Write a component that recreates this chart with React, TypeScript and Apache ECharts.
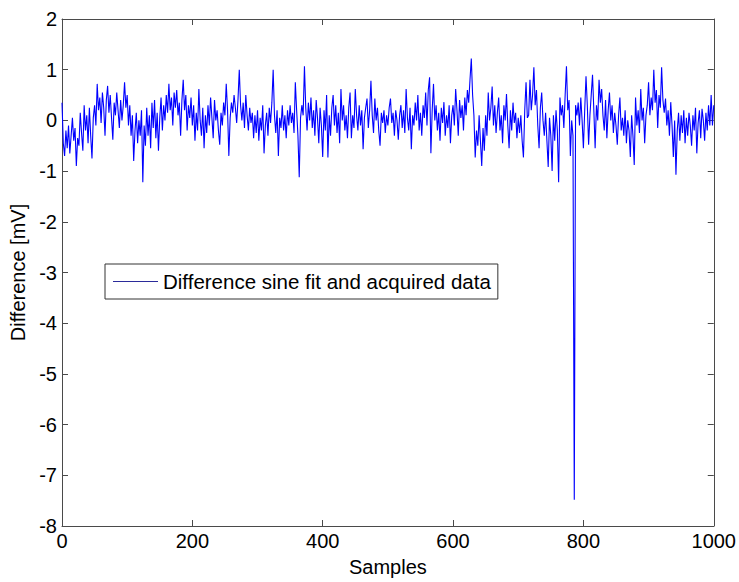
import React, { useEffect, useRef } from "react";
import * as echarts from "echarts";

const SAMPLE_STEP = 2;

// Difference values [mV], samples 0..248
const diffA = [
  0.35, -0.45, -0.7, -0.2, -0.55, -0.1, -0.65, -0.3, 0.05, -0.4, -0.15, -0.9, -0.35, -0.5, 0.15, -0.25, -0.6, 0.3, -0.2, 0.1, -0.45, 0.25, -0.3, -0.75, 0.05,
  0.3, -0.1, 0.72, 0.2, 0.45, -0.05, 0.55, 0.25, -0.3, 0.4, 0.68, 0.15, 0.5, 0.05, -0.38, 0.35, 0.1, 0.55, 0.2, -0.15, 0.4, 0.0, 0.3, 0.75, 0.25,
  0.5, -0.1, 0.3, -0.3, 0.1, -0.8, -0.2, 0.15, -0.45, 0.0, -0.3, 0.2, -1.22, -0.1, -0.5, 0.25, -0.3, 0.1, -0.55, 0.35, -0.15, 0.4, -0.35, 0.15, -0.6,
  0.05, 0.45, -0.2, 0.3, 0.0, 0.5, 0.15, 0.72, 0.2, 0.45, -0.1, 0.55, 0.25, 0.6, 0.1, 0.35, -0.3, 0.4, 0.8, 0.2, 0.5, -0.2, 0.3, 0.05, 0.45,
  -0.1, 0.3, -0.4, 0.15, -0.2, 0.62, 0.0, -0.3, 0.25, -0.55, 0.1, -0.25, 0.3, -0.1, 0.45, 0.05, -0.35, 0.4, 0.0, 0.2, -0.2, -0.48, 0.15, -0.1, 0.35,
];

// samples 250..498
const diffB = [
  0.1, 0.72, 0.2, -0.7, 0.05, 0.35, 0.15, 0.5, 0.25, -0.05, 0.4, 1.0, 0.3, 0.0, 0.35, -0.15, 0.5, 0.1, -0.2, 0.25, -0.05, 0.15, -0.35, 0.1, -0.25,
  0.2, -0.4, 0.05, -0.2, 0.3, -0.65, -0.1, 0.15, -0.3, 0.25, -0.05, 0.35, 1.0, 0.1, -0.25, 0.2, -0.7, 0.05, -0.15, 0.3, -0.2, 0.1, -0.35, 0.2, -0.1,
  0.3, -0.05, 0.15, -0.25, 0.75, 0.2, -0.3, -1.12, 0.05, 0.3, 0.1, 1.07, 0.25, -0.2, 0.35, 0.0, 0.45, -0.15, 0.2, -0.3, 0.4, 0.05, -0.45, 0.25, -0.1,
  -0.72, 0.2, -0.2, 0.5, -0.73, 0.1, -0.3, 0.25, 0.5, -0.1, 0.3, -0.25, 0.15, -0.45, 0.62, 0.0, 0.3, -0.2, 0.1, -0.35, 0.25, 0.55, -0.35, 0.1, -0.15,
  0.62, 0.1, -0.2, 0.3, -0.1, 0.2, -0.57, 0.05, 0.25, 0.43, -0.15, 0.2, 0.78, 0.1, -0.25, 0.43, 0.0, 0.25, -0.2, -0.5, 0.15, -0.05, 0.2, -0.25, 0.1,
];

// samples 500..748
const diffC = [
  -0.1, 0.25, 0.43, -0.05, 0.15, -0.3, 0.2, 0.0, -0.38, 0.1, 0.3, -0.15, 0.2, -0.25, 0.62, 0.05, -0.2, 0.25, -0.57, 0.1, -0.1, 0.35, 0.0, 0.5, -0.2,
  0.15, -0.3, 0.3, 0.05, 0.55, -0.1, 0.6, 0.85, -0.65, 0.2, 0.72, 0.0, 0.3, -0.2, 0.15, -0.4, 0.25, -0.05, 0.36, -0.3, 0.1, -0.15, 0.3, -0.45, 0.1,
  0.3, -0.1, 0.62, 0.2, -0.3, 0.4, 0.05, 0.3, -0.2, 0.45, 0.1, 0.6, 0.35, 0.8, 1.22, 0.5, 0.1, -0.73, -0.2, -0.5, 0.1, -0.4, -0.9, -0.15, -0.6,
  0.1, -0.3, 0.55, 0.0, 0.25, 0.67, -0.1, 0.3, -0.25, 0.15, 0.45, -0.2, 0.1, -0.45, 0.3, 0.0, 0.52, -0.1, -0.55, 0.2, -0.2, 0.35, -0.05, 0.15, -0.35,
  0.05, -0.25, 0.1, -0.4, -0.73, 0.2, 0.75, 0.05, 0.1, 0.8, 0.2, 0.5, 1.05, 0.3, 0.6, -0.1, -0.55, 0.25, 0.55, 0.0, -0.3, 0.15, -0.4, -0.92, 0.05,
];

// samples 750..1000 (includes the outlier near sample 786)
const diffD = [
  -0.3, -1.0, 0.1, -0.4, 0.2, -0.2, -1.22, 0.45, 0.1, 0.3, -0.15, 0.5, 1.07, 0.2, 0.4, -0.7, 0.0, -0.3, -7.48, 0.3, 0.1, 0.35, -0.1, 0.45, 0.0,
  -0.55, 0.2, 0.87, 0.3, -0.48, 0.1, 0.5, 0.9, 0.2, -0.55, 0.3, 0.0, 0.8, 0.35, 0.62, 0.1, -0.2, 0.4, -0.35, 0.2, 0.55, 0.0, 0.3, -0.25, 0.15,
  -0.1, -0.48, 0.1, 0.45, -0.2, 0.05, -0.3, 0.2, -0.45, 0.0, -0.2, -0.72, 0.1, -0.3, -0.88, 0.45, -0.1, 0.2, -0.25, 0.62, 0.0, 0.25, -0.45, 0.1, 0.3,
  0.75, 0.1, 0.45, 0.2, 1.0, 0.35, 0.6, -0.15, 0.5, 0.25, 1.05, 0.4, 0.15, 0.43, -0.1, 0.2, -0.3, 0.36, -0.1, -0.72, 0.0, -1.07, -0.2, 0.15, -0.4,
  0.1, -0.25, 0.2, -0.45, 0.05, -0.3, 0.15, -0.1, -0.5, 0.1, -0.2, 0.25, -0.65, -0.05, 0.2, -0.35, 0.23, 0.0, -0.4, 0.15, -0.2, 0.3, -0.1, 0.5, -0.1,
  0.3,
];

const difference = [...diffA, ...diffB, ...diffC, ...diffD];
const samples = difference.map((_, i) => i * SAMPLE_STEP);

const seriesName = "Difference sine fit and acquired data";
const xAxisName = "Samples";
const yAxisName = "Difference [mV]";

export default function App() {
  const ref = useRef<HTMLDivElement>(null);

  useEffect(() => {
    if (!ref.current) return;
    const chart = echarts.init(ref.current, null, { renderer: "svg" });
    const font = "'Liberation Sans', Arial, Helvetica, sans-serif";
    const boxColor = "#4a4a4a";
    const axisLine = { show: true, onZero: false, lineStyle: { color: boxColor, width: 1 } };
    const axisTick = { show: true, inside: true, length: 6, lineStyle: { color: boxColor, width: 1 } };
    const labelStyle = { fontSize: 20, color: "#000", fontFamily: font };

    chart.setOption({
      animation: false,
      backgroundColor: "#ffffff",
      textStyle: { fontFamily: font },
      grid: { left: 62, top: 19, width: 653, height: 516, containLabel: false },
      legend: {
        data: [{ name: seriesName, icon: "rect" }],
        left: 105,
        top: 264,
        orient: "horizontal",
        padding: [7, 7, 7, 8],
        itemWidth: 45,
        itemHeight: 1,
        itemStyle: { color: "#2b2b9a", borderWidth: 0 },
        backgroundColor: "#ffffff",
        borderColor: "#333333",
        borderWidth: 1,
        borderRadius: 0,
        textStyle: { fontSize: 20.5, color: "#000", fontFamily: font, lineHeight: 20 },
      },
      xAxis: [
        {
          type: "value",
          position: "bottom",
          min: 0,
          max: 1000,
          interval: 200,
          name: xAxisName,
          nameLocation: "middle",
          nameGap: 31,
          nameTextStyle: labelStyle,
          axisLine,
          axisTick,
          axisLabel: { ...labelStyle, margin: 5, formatter: (v: number) => String(v) },
          splitLine: { show: false },
        },
        {
          type: "value",
          position: "top",
          min: 0,
          max: 1000,
          interval: 200,
          axisLine,
          axisTick,
          axisLabel: { show: false },
          splitLine: { show: false },
        },
      ],
      yAxis: [
        {
          type: "value",
          position: "left",
          min: -8,
          max: 2,
          interval: 1,
          name: yAxisName,
          nameLocation: "middle",
          nameGap: 31,
          nameTextStyle: labelStyle,
          axisLine,
          axisTick,
          axisLabel: { ...labelStyle, margin: 5, formatter: (v: number) => String(v) },
          splitLine: { show: false },
        },
        {
          type: "value",
          position: "right",
          min: -8,
          max: 2,
          interval: 1,
          axisLine,
          axisTick,
          axisLabel: { show: false },
          splitLine: { show: false },
        },
      ],
      series: [
        {
          type: "line",
          name: seriesName,
          xAxisIndex: 0,
          yAxisIndex: 0,
          data: samples.map((s, i) => [s, difference[i]]),
          symbol: "none",
          showSymbol: false,
          lineStyle: { color: "#0000ff", width: 1.1 },
          itemStyle: { color: "#0000ff" },
        },
      ],
    });

    return () => chart.dispose();
  }, []);

  return (
    <div
      ref={ref}
      style={{ position: "fixed", left: 0, top: 0, width: 739, height: 582, background: "#fff" }}
    />
  );
}
